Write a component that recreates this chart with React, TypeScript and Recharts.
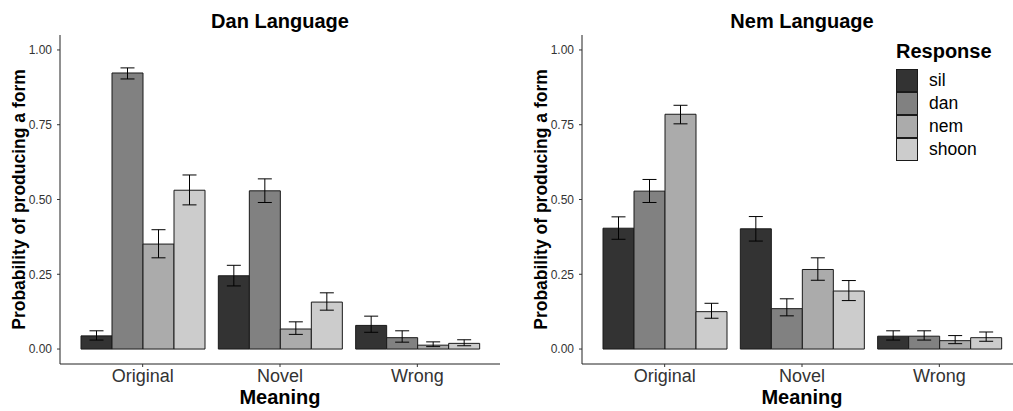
import { Bar, BarChart, ErrorBar, Legend, XAxis, YAxis } from 'recharts'

const FONT = '"Liberation Sans", Arial, Helvetica, sans-serif'

const meanings = ['Original', 'Novel', 'Wrong']
const responses = ['sil', 'dan', 'nem', 'shoon']
const fills = ['#333333', '#818181', '#ababab', '#cccccc']
const yTicks = [0, 0.25, 0.5, 0.75, 1]

// rows: meaning, columns: response (sil, dan, nem, shoon)
const danMeans = [
  [0.044, 0.923, 0.351, 0.531],
  [0.245, 0.529, 0.067, 0.157],
  [0.079, 0.038, 0.013, 0.019],
]
const danLower = [
  [0.03, 0.903, 0.305, 0.482],
  [0.211, 0.49, 0.049, 0.13],
  [0.056, 0.023, 0.008, 0.011],
]
const danUpper = [
  [0.061, 0.94, 0.399, 0.582],
  [0.28, 0.569, 0.091, 0.188],
  [0.11, 0.061, 0.024, 0.031],
]

const nemMeans = [
  [0.404, 0.528, 0.785, 0.125],
  [0.402, 0.135, 0.266, 0.194],
  [0.043, 0.043, 0.028, 0.038],
]
const nemLower = [
  [0.367, 0.49, 0.753, 0.103],
  [0.361, 0.111, 0.23, 0.162],
  [0.03, 0.03, 0.018, 0.026],
]
const nemUpper = [
  [0.442, 0.567, 0.815, 0.153],
  [0.443, 0.168, 0.305, 0.229],
  [0.061, 0.061, 0.045, 0.057],
]

function buildRows(means: number[][], lower: number[][], upper: number[][]) {
  return meanings.map((meaning, i) => {
    const row: Record<string, unknown> = { meaning }
    responses.forEach((r, j) => {
      row[r] = means[i][j]
      row[`${r}Err`] = [means[i][j] - lower[i][j], upper[i][j] - means[i][j]]
    })
    return row
  })
}

function LegendBox({ payload }: { payload?: { value: string; color: string }[] }) {
  // keep the factor order rather than alphabetical
  const items = [...(payload ?? [])].sort(
    (a, b) => responses.indexOf(a.value) - responses.indexOf(b.value),
  )
  return (
    <div style={{ fontFamily: FONT, color: '#000' }}>
      <div style={{ fontSize: 20, fontWeight: 'bold', lineHeight: '22px', marginBottom: 7 }}>
        Response
      </div>
      {items.map((entry) => (
        <div key={entry.value} style={{ display: 'flex', alignItems: 'center', height: 23 }}>
          <span
            style={{
              width: 22,
              height: 23,
              boxSizing: 'border-box',
              border: '1px solid #1a1a1a',
              background: entry.color,
              marginRight: 11,
            }}
          />
          <span style={{ fontSize: 17.5 }}>{entry.value}</span>
        </div>
      ))}
    </div>
  )
}

function Panel({
  title,
  rows,
  left,
  showLegend,
}: {
  title: string
  rows: Record<string, unknown>[]
  left: number
  showLegend?: boolean
}) {
  return (
    <div style={{ position: 'absolute', left, top: 0, width: 506, height: 411 }}>
      <div
        style={{
          position: 'absolute',
          left: 60,
          width: 440,
          top: 11,
          textAlign: 'center',
          fontWeight: 'bold',
          fontSize: 20,
          lineHeight: '20px',
          color: '#000',
        }}
      >
        {title}
      </div>
      <BarChart
        width={506}
        height={411}
        data={rows}
        margin={{ top: 35, right: 6, bottom: 0, left: 0 }}
        barSize={31}
        barGap={0}
      >
        <XAxis
          dataKey="meaning"
          height={47}
          padding={{ left: 14, right: 14 }}
          tickSize={3}
          tickMargin={2}
          axisLine={{ stroke: '#222' }}
          tickLine={{ stroke: '#333' }}
          tick={{ fontSize: 18, fill: '#333' }}
          label={{
            value: 'Meaning',
            position: 'insideBottom',
            offset: 7,
            fontSize: 20,
            fontWeight: 'bold',
            fill: '#000',
          }}
        />
        <YAxis
          type="number"
          domain={[-0.05, 1.05]}
          ticks={yTicks}
          tickFormatter={(v: number) => v.toFixed(2)}
          width={60}
          tickSize={3}
          tickMargin={5}
          axisLine={{ stroke: '#222' }}
          tickLine={{ stroke: '#333' }}
          tick={{ fontSize: 12, fill: '#333' }}
          label={{
            value: 'Probability of producing a form',
            angle: -90,
            position: 'center',
            dx: -11,
            fontSize: 17.5,
            fontWeight: 'bold',
            fill: '#000',
          }}
        />
        {responses.map((r, j) => (
          <Bar
            key={r}
            dataKey={r}
            name={r}
            fill={fills[j]}
            stroke="#1a1a1a"
            strokeWidth={1}
            isAnimationActive={false}
          >
            <ErrorBar
              dataKey={`${r}Err`}
              width={7}
              stroke="#000"
              strokeWidth={1}
              isAnimationActive={false}
            />
          </Bar>
        ))}
        {showLegend && (
          <Legend
            layout="vertical"
            align="center"
            verticalAlign="middle"
            wrapperStyle={{ left: 374, top: 40, width: 130 }}
            content={LegendBox as never}
          />
        )}
      </BarChart>
    </div>
  )
}

export default function App() {
  return (
    <div
      style={{
        position: 'absolute',
        left: 0,
        top: 0,
        width: 1013,
        height: 411,
        overflow: 'hidden',
        background: '#fff',
        fontFamily: FONT,
      }}
    >
      <Panel title="Dan Language" rows={buildRows(danMeans, danLower, danUpper)} left={0} />
      <Panel
        title="Nem Language"
        rows={buildRows(nemMeans, nemLower, nemUpper)}
        left={522}
        showLegend
      />
    </div>
  )
}
